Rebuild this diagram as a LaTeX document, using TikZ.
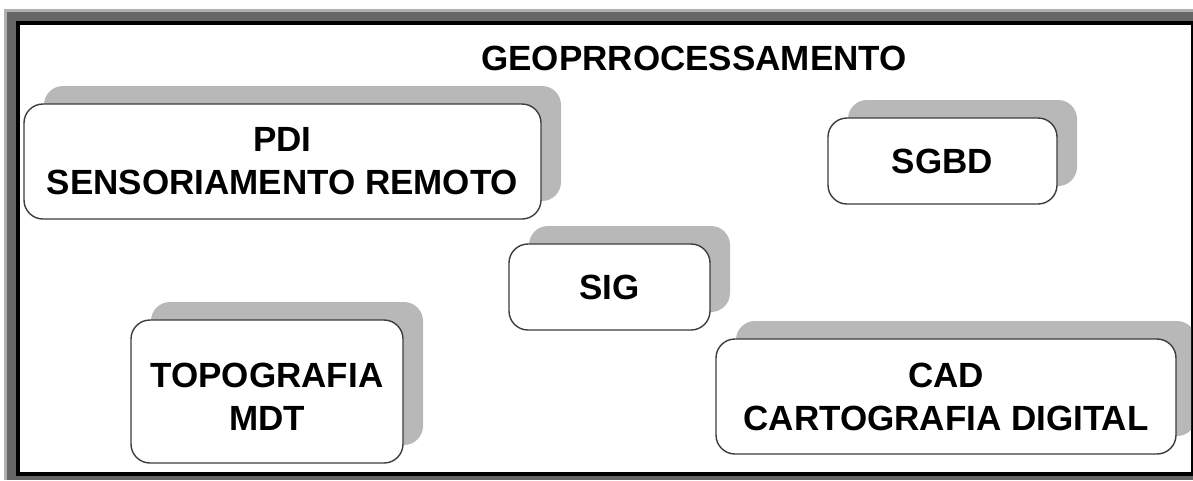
\documentclass[tikz,border=0pt]{standalone}
\usepackage{fontspec}
\setmainfont{Liberation Sans}
\usetikzlibrary{shadows}
\definecolor{shadowgray}{HTML}{B8B8B8}
\definecolor{framegray}{HTML}{666666}
\definecolor{edgegray}{HTML}{B0B0B0}
\definecolor{boxline}{HTML}{3C3C3C}
\tikzset{
  lbl/.style={font=\bfseries\fontsize{35}{43}\selectfont, text=black},
  card/.style={lbl, draw=boxline, line width=1.4pt, fill=white, rounded corners=19pt,
    inner sep=0pt, align=center,
    drop shadow={shadow xshift=20pt, shadow yshift=18pt, opacity=1, fill=shadowgray, draw=none}},
}
\begin{document}
\begin{tikzpicture}[x=1pt,y=-1pt]
\useasboundingbox (0,0) rectangle (1193,480);
% window frame
\fill[edgegray] (4,9) rectangle (1193,480);
\fill[framegray] (7,12) rectangle (1193,480);
\fill[black] (16,21) rectangle (1193,476);
\fill[white] (20,25) rectangle (1191,472);
\begin{scope}
\clip (20,25) rectangle (1191,472);
\node[lbl, anchor=base] (title) at (694,70) {GEOPRROCESSAMENTO};
\node[card, minimum width=517pt, minimum height=115pt] (pdi) at (282.5,161.5) {PDI\\SENSORIAMENTO REMOTO};
\node[card, minimum width=229pt, minimum height=86pt] (sgbd) at (942.5,161) {SGBD};
\node[card, minimum width=201pt, minimum height=86pt] (sig) at (609.5,287) {SIG};
\node[card, minimum width=272pt, minimum height=143pt] (topo) at (267,391.5) {};
\node[lbl, align=center, inner sep=0pt] (topotext) at (267,396.5) {TOPOGRAFIA\\MDT};
\node[card, minimum width=460pt, minimum height=115pt] (cad) at (946,396.5) {CAD\\CARTOGRAFIA DIGITAL};
\end{scope}
\end{tikzpicture}
\end{document}
